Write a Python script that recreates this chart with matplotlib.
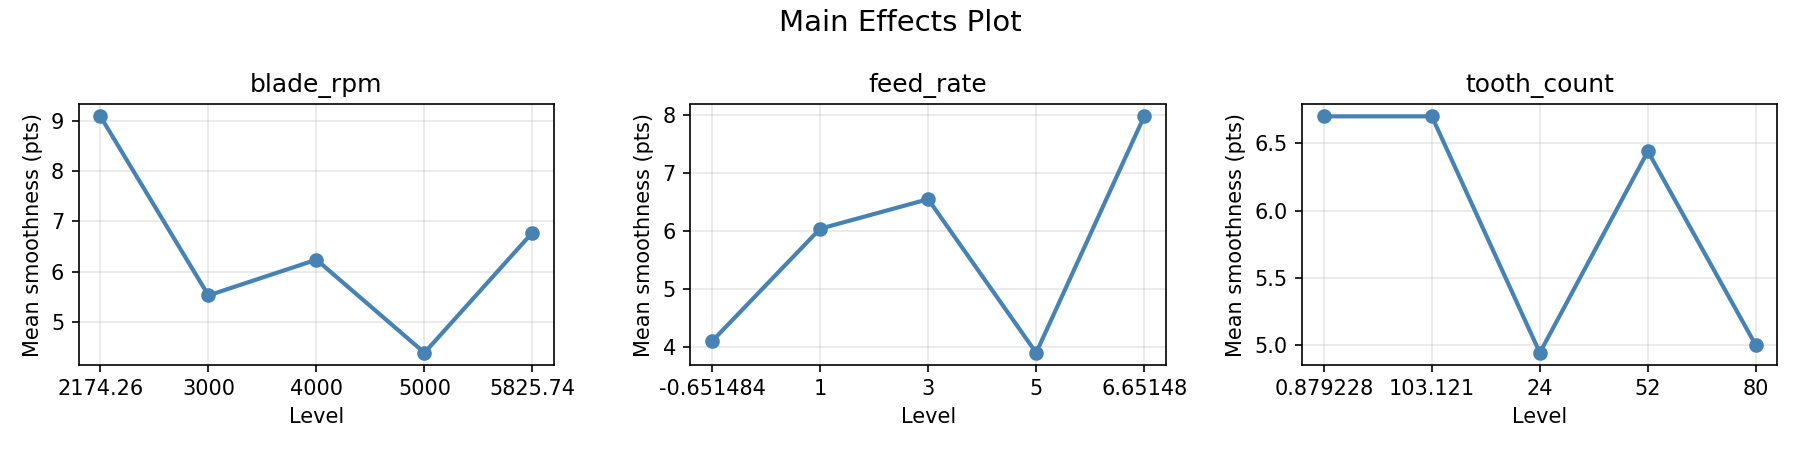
import matplotlib
matplotlib.use("Agg")
import matplotlib.pyplot as plt

factors = ["blade_rpm", "feed_rate", "tooth_count"]
blade_levels = ["2174.26", "3000", "4000", "5000", "5825.74"]
blade_means = [9.09, 5.53, 6.24, 4.39, 6.78]
feed_levels = ["-0.651484", "1", "3", "5", "6.65148"]
feed_means = [4.10, 6.04, 6.55, 3.90, 7.98]
tooth_levels = ["0.879228", "103.121", "24", "52", "80"]
tooth_means = [6.70, 6.70, 4.945, 6.44, 5.00]

levels = [blade_levels, feed_levels, tooth_levels]
means = [blade_means, feed_means, tooth_means]

fig, axes = plt.subplots(1, 3, figsize=(12, 3), dpi=150)
for ax, name, lv, mv in zip(axes, factors, levels, means):
    ax.plot(lv, mv, marker="o", color="steelblue", linewidth=2, markersize=6)
    ax.set_title(name)
    ax.set_xlabel("Level")
    ax.set_ylabel("Mean smoothness (pts)")
    ax.grid(True, alpha=0.3)
fig.suptitle("Main Effects Plot", fontsize=14)
fig.tight_layout()
fig.savefig("out.png")
